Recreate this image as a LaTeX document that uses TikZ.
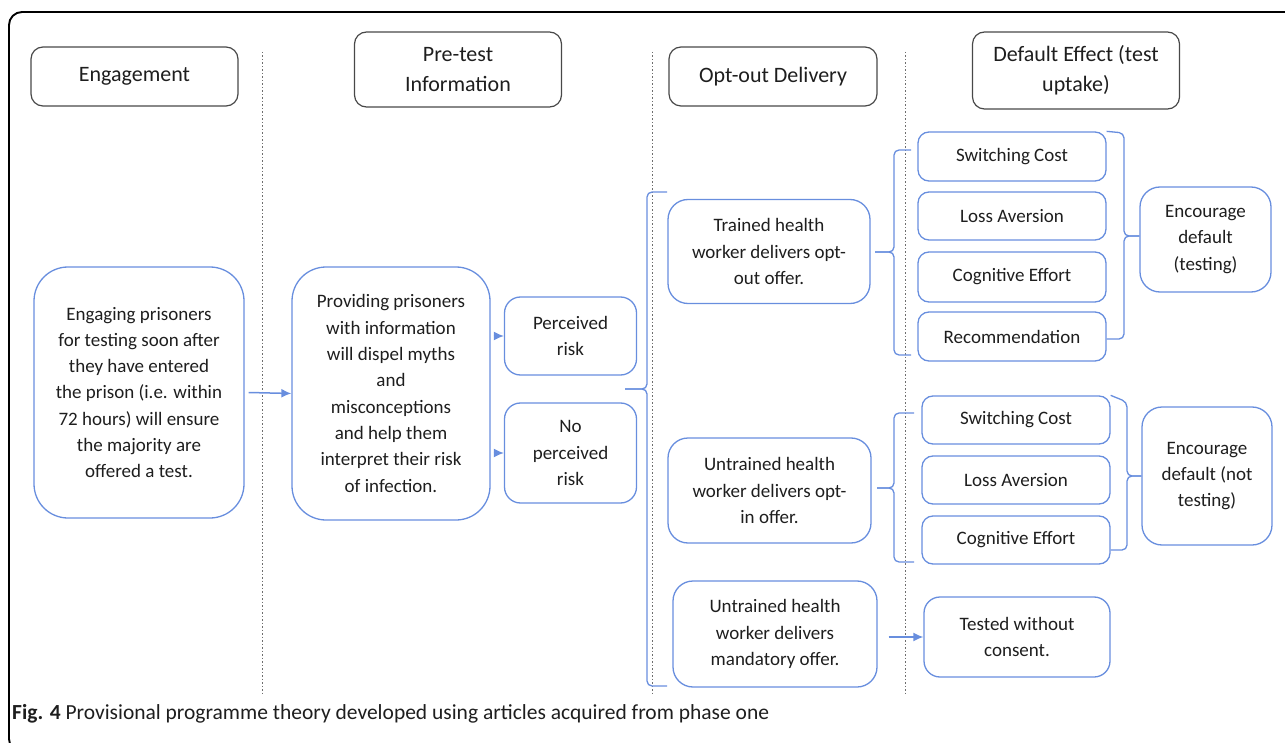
\documentclass[tikz,border=0pt]{standalone}
\usepackage{fontspec}
\setmainfont{Carlito}
\usetikzlibrary{arrows.meta}

\definecolor{boxblue}{RGB}{104,142,222}
\definecolor{headgray}{RGB}{72,72,72}
\definecolor{divgray}{RGB}{110,110,110}
\definecolor{txtgray}{RGB}{30,30,30}

\tikzset{
  hdr/.style={draw=headgray, line width=1.2pt, rounded corners=12pt, align=center,
    inner sep=0pt, text=txtgray, font=\fontsize{22}{30}\selectfont},
  box/.style={draw=boxblue, line width=1.3pt, rounded corners=#1, align=center,
    inner sep=0pt, text=txtgray, font=\fontsize{19}{26.3}\selectfont},
  box/.default=11pt,
  arr/.style={draw=boxblue, line width=1.5pt, -{Latex[length=10pt,width=9pt]}},
  brc/.style={draw=boxblue, line width=1.3pt, rounded corners=5pt},
  divider/.style={draw=divgray, line width=1pt, dash pattern=on 1.5pt off 2pt}
}

\begin{document}
\begin{tikzpicture}[x=1pt,y=-1pt]

\useasboundingbox (0,0) rectangle (1285,743);
\clip (0,0) rectangle (1285,743);

% Outer frame
\draw [line width=1.9pt, rounded corners=13pt] (9,12) rectangle (1310,752);

% Column dividers
\foreach \xx in {262,652,905} {
  \draw [divider] (\xx,52) -- (\xx,695);
}

% Column headings
\node [hdr, minimum width=207pt, minimum height=59pt] (engage) at (134.5,76.5) {Engagement};
\node [hdr, minimum width=207pt, minimum height=75pt] (pretest) at (458,69.5) {Pre-test\\Information};
\node [hdr, minimum width=208pt, minimum height=59pt] (optout) at (773,76.5) {Opt-out Delivery};
\node [hdr, minimum width=207pt, minimum height=77pt] (default) at (1076,70.5) {Default Effect (test\\uptake)};

% Engagement and pre-test information
\node [box=34pt, minimum width=210pt, minimum height=251pt] (engaging) at (139,392.5)
  {Engaging prisoners\\for testing soon after\\they have entered\\the prison (i.e. within\\72 hours) will ensure\\the majority are\\offered a test.};
\node [box=34pt, minimum width=198pt, minimum height=253pt] (providing) at (391,393.5)
  {Providing prisoners\\with information\\will dispel myths\\and\\misconceptions\\and help them\\interpret their risk\\of infection.};
\node [box=16pt, minimum width=132pt, minimum height=78pt] (perc) at (570.5,336) {Perceived\\risk};
\node [box=16pt, minimum width=132pt, minimum height=100pt] (noperc) at (570.5,453) {No\\perceived\\risk};

\draw [arr] ([xshift=4pt]engaging.east) -- (providing.west);
\draw [arr] ([xshift=3pt]providing.east |- perc.west) -- (perc.west);
\draw [arr] ([xshift=3pt]providing.east |- noperc.west) -- (noperc.west);

% Opt-out delivery
\node [box=20pt, minimum width=202pt, minimum height=104pt] (trained) at (769,251.5)
  {Trained health\\worker delivers opt-\\out offer.};
\node [box=20pt, minimum width=203pt, minimum height=105pt] (optin) at (769.5,490.5)
  {Untrained health\\worker delivers opt-\\in offer.};
\node [box=20pt, minimum width=204pt, minimum height=106pt] (mandatory) at (775,634)
  {Untrained health\\worker delivers\\mandatory offer.};

% Default effect
\node [box, minimum width=188pt, minimum height=49pt] (sc1) at (1012,156.5) {Switching Cost};
\node [box, minimum width=188pt, minimum height=48pt] (la1) at (1012,216) {Loss Aversion};
\node [box, minimum width=188pt, minimum height=50pt] (ce1) at (1012,277) {Cognitive Effort};
\node [box, minimum width=188pt, minimum height=49pt] (rec1) at (1012,336.5) {Recommendation};
\node [box=20pt, minimum width=131pt, minimum height=105pt] (enc1) at (1205.5,239.5) {Encourage\\default\\(testing)};

\node [box, minimum width=188pt, minimum height=48pt] (sc2) at (1016,420) {Switching Cost};
\node [box, minimum width=188pt, minimum height=48pt] (la2) at (1016,480) {Loss Aversion};
\node [box, minimum width=188pt, minimum height=48pt] (ce2) at (1016,540) {Cognitive Effort};
\node [box=20pt, minimum width=130pt, minimum height=138pt] (enc2) at (1207,476) {Encourage\\default (not\\testing)};

\node [box=16pt, minimum width=186pt, minimum height=80pt] (tested) at (1017,637) {Tested without\\consent.};

\draw [arr] ([xshift=11pt]mandatory.east |- tested.west) -- (tested.west);

% Braces
\draw [brc] (667,192) -- (647,192) -- (647,389) -- (625,389);
\draw [brc] (625,389) -- (647,389) -- (647,686) -- (667,686);

\draw [brc] (911,150) -- (894,150) -- (894,252) -- (875,252);
\draw [brc] (875,252) -- (894,252) -- (894,355) -- (911,355);
\draw [brc] (sc1.north east) -- (1124,133) -- (1124,236) -- (enc1.west |- 0,236);
\draw [brc] (enc1.west |- 0,236) -- (1124,236) -- (1124,339) -- (rec1.east |- 0,339);

\draw [brc] (914,413) -- (894,413) -- (894,488) -- (877,488);
\draw [brc] (877,488) -- (894,488) -- (894,562) -- (914,562);
\draw [brc] (sc2.north east) -- (1127,402) -- (1127,476) -- (enc2.west);
\draw [brc] (enc2.west) -- (1127,476) -- (1127,550) -- (ce2.east |- 0,550);

% Caption
\node [anchor=base west, inner sep=0pt, text=txtgray, font=\fontsize{21.5}{24}\selectfont] (caption) at (12,719)
  {\textbf{Fig. 4} Provisional programme theory developed using articles acquired from phase one};

\end{tikzpicture}
\end{document}
